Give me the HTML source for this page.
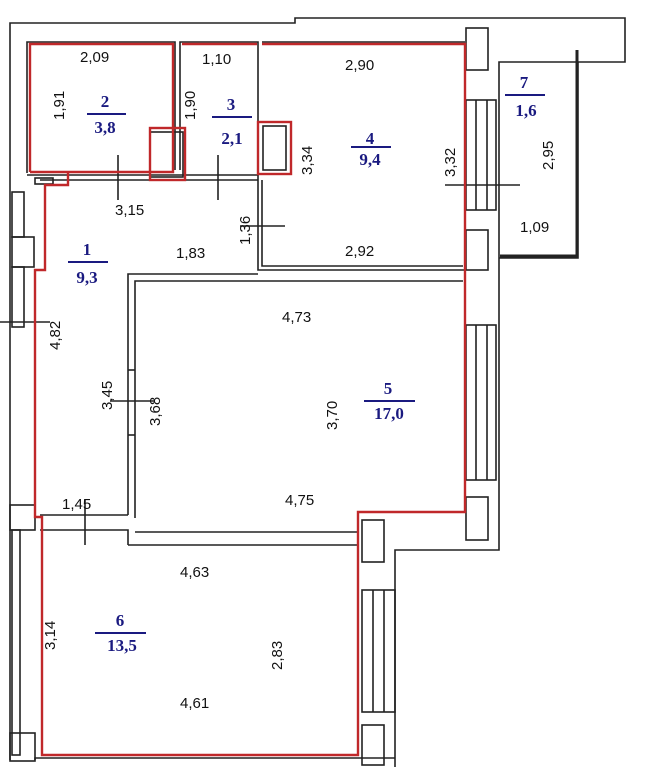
<!DOCTYPE html>
<html><head><meta charset="utf-8"><style>
html,body{margin:0;padding:0;background:#fff;}
svg{display:block;}
.d{font-family:"Liberation Sans",sans-serif;font-size:15px;fill:#111;}
.n{font-family:"Liberation Serif",serif;font-size:17px;font-weight:bold;fill:#1a1a80;text-anchor:middle;}
</style></head><body>
<svg width="661" height="767" viewBox="0 0 661 767" xmlns="http://www.w3.org/2000/svg">
<g fill="none" stroke="#222" stroke-width="1.6">
<!-- outer walls -->
<polyline points="10,760 10,23 295,23 295,18 625,18 625,62 499,62 499,550 395,550 395,767"/>
<polyline points="35,760 35,758 395,758"/>
<polyline points="578,62 578,258 499,258"/>
<!-- windows left -->
<rect x="12" y="192" width="12" height="45"/>
<rect x="12" y="237" width="22" height="30"/>
<rect x="12" y="267" width="12" height="60"/>
<rect x="10" y="505" width="25" height="25"/>
<rect x="12" y="530" width="8" height="225"/>
<rect x="10" y="733" width="25" height="28"/>
<!-- windows right -->
<rect x="466" y="28" width="22" height="42"/>
<rect x="466" y="100" width="30" height="110"/>
<line x1="476" y1="100" x2="476" y2="210"/><line x1="487" y1="100" x2="487" y2="210"/>
<rect x="466" y="230" width="22" height="40"/>
<rect x="466" y="325" width="30" height="155"/>
<line x1="476" y1="325" x2="476" y2="480"/><line x1="487" y1="325" x2="487" y2="480"/>
<rect x="466" y="497" width="22" height="43"/>
<rect x="362" y="520" width="22" height="42"/>
<rect x="362" y="590" width="33" height="122"/>
<line x1="373" y1="590" x2="373" y2="712"/><line x1="384" y1="590" x2="384" y2="712"/>
<rect x="362" y="725" width="22" height="40"/>
<!-- balcony rail -->
<line x1="577" y1="50" x2="577" y2="258" stroke-width="3"/>
<line x1="500" y1="256" x2="578" y2="256" stroke-width="3"/>
<!-- interior walls -->
<polyline points="27,173 27,42 175,42 175,170"/>
<polyline points="180,170 180,42 258,42 258,180"/>
<polyline points="262,42 465,42"/>
<line x1="27" y1="175" x2="258" y2="175"/>
<line x1="40" y1="180" x2="258" y2="180"/>
<polyline points="258,180 258,270 465,270"/>
<polyline points="262,180 262,266 463,266"/>
<polyline points="128,515 128,274 258,274"/>
<polyline points="135,518 135,281 463,281"/>
<polyline points="135,532 357,532"/>
<polyline points="128,545 128,530 40,530"/>
<polyline points="128,545 357,545"/>
<line x1="40" y1="515" x2="128" y2="515"/>
<line x1="128" y1="370" x2="135" y2="370"/><line x1="128" y1="435" x2="135" y2="435"/>
<rect x="35" y="178" width="18" height="6"/>
<!-- dim ticks -->
<line x1="118" y1="155" x2="118" y2="200"/>
<line x1="218" y1="155" x2="218" y2="200"/>
<line x1="240" y1="226" x2="285" y2="226"/>
<line x1="445" y1="185" x2="520" y2="185"/>
<line x1="0" y1="322" x2="50" y2="322"/>
<line x1="110" y1="401" x2="155" y2="401"/>
<line x1="85" y1="500" x2="85" y2="545"/>
<rect x="150" y="132" width="33" height="45"/>
<rect x="263" y="126" width="23" height="44"/>
</g>
<!-- red outlines -->
<g fill="none" stroke="#c0282a" stroke-width="2.4">
<polyline points="30,172 30,44 173,44 173,172 30,172"/>
<polyline points="182,44 257,44"/>
<rect x="150" y="128" width="35" height="52"/>
<rect x="258" y="122" width="33" height="52"/>
<polyline points="262,44 465,44 465,512 358,512 358,755 42,755 42,517 35,517 35,270 45,270 45,185 68,185 68,172"/>
</g>
<!-- dimension labels -->
<text class="d" x="80" y="62">2,09</text>
<text class="d" x="202" y="64">1,10</text>
<text class="d" x="345" y="70">2,90</text>
<text class="d" x="115" y="215">3,15</text>
<text class="d" x="176" y="258">1,83</text>
<text class="d" x="345" y="256">2,92</text>
<text class="d" x="520" y="232">1,09</text>
<text class="d" x="282" y="322">4,73</text>
<text class="d" x="285" y="505">4,75</text>
<text class="d" x="62" y="509">1,45</text>
<text class="d" x="180" y="577">4,63</text>
<text class="d" x="180" y="708">4,61</text>
<g class="d">
<text transform="translate(64,120) rotate(-90)">1,91</text>
<text transform="translate(195,120) rotate(-90)">1,90</text>
<text transform="translate(312,175) rotate(-90)">3,34</text>
<text transform="translate(455,177) rotate(-90)">3,32</text>
<text transform="translate(553,170) rotate(-90)">2,95</text>
<text transform="translate(250,245) rotate(-90)">1,36</text>
<text transform="translate(60,350) rotate(-90)">4,82</text>
<text transform="translate(112,410) rotate(-90)">3,45</text>
<text transform="translate(160,426) rotate(-90)">3,68</text>
<text transform="translate(337,430) rotate(-90)">3,70</text>
<text transform="translate(55,650) rotate(-90)">3,14</text>
<text transform="translate(282,670) rotate(-90)">2,83</text>
</g>
<!-- room numbers -->
<g class="n">
<text x="105" y="107">2</text><line x1="87" y1="114" x2="126" y2="114" stroke="#1a1a80" stroke-width="2"/><text x="105" y="133">3,8</text>
<text x="231" y="110">3</text><line x1="212" y1="117" x2="252" y2="117" stroke="#1a1a80" stroke-width="2"/><text x="232" y="144">2,1</text>
<text x="370" y="144">4</text><line x1="351" y1="147" x2="391" y2="147" stroke="#1a1a80" stroke-width="2"/><text x="370" y="165">9,4</text>
<text x="524" y="88">7</text><line x1="505" y1="95" x2="545" y2="95" stroke="#1a1a80" stroke-width="2"/><text x="526" y="116">1,6</text>
<text x="87" y="255">1</text><line x1="68" y1="262" x2="108" y2="262" stroke="#1a1a80" stroke-width="2"/><text x="87" y="283">9,3</text>
<text x="388" y="394">5</text><line x1="364" y1="401" x2="415" y2="401" stroke="#1a1a80" stroke-width="2"/><text x="389" y="419">17,0</text>
<text x="120" y="626">6</text><line x1="95" y1="633" x2="146" y2="633" stroke="#1a1a80" stroke-width="2"/><text x="122" y="651">13,5</text>
</g>
</svg>
</body></html>
